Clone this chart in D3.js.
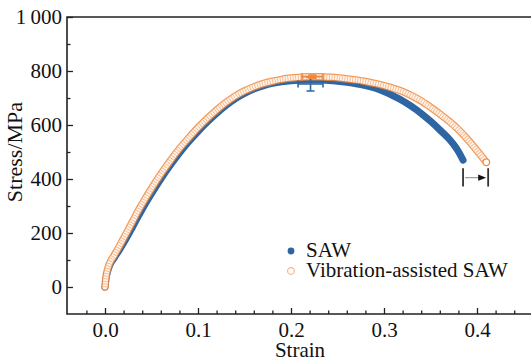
<!DOCTYPE html>
<html>
<head>
<meta charset="utf-8">
<script src="https://cdn.jsdelivr.net/npm/d3@7"></script>
<style>
  body { margin: 0; background: #fff; }
  svg { display: block; font-family: "Liberation Serif", "Times New Roman", serif; }
  .axis text { font-family: "Liberation Serif", "Times New Roman", serif; font-size: 21px; fill: #111; }
  .axis line { stroke: #222; stroke-width: 1.3; }
  .axis path { display: none; }
</style>
</head>
<body>
<div id="chart"></div>
<script>
// Data
const strainSAW = [0, 0.001, 0.003, 0.005, 0.01, 0.015, 0.02, 0.025, 0.03, 0.035, 0.04, 0.045, 0.05, 0.06, 0.07, 0.08, 0.09, 0.1, 0.11, 0.12, 0.13, 0.14, 0.15, 0.16, 0.17, 0.18, 0.19, 0.2, 0.21, 0.22, 0.23, 0.24, 0.25, 0.26, 0.27, 0.28, 0.29, 0.3, 0.31, 0.32, 0.33, 0.34, 0.35, 0.36, 0.37, 0.375, 0.38, 0.385];
const stressSAW = [0, 30, 60, 80, 108, 135, 163, 193, 225, 257, 288, 318, 346, 400, 450, 496, 538, 576, 611, 643, 672, 697, 717, 733, 745, 754, 760, 764, 766, 767, 767, 765, 762, 758, 753, 746, 737, 724, 708, 690, 668, 643, 614, 582, 548, 527, 502, 470];

const strainVib = [0, 0.001, 0.003, 0.005, 0.01, 0.015, 0.02, 0.025, 0.03, 0.035, 0.04, 0.045, 0.05, 0.06, 0.07, 0.08, 0.09, 0.1, 0.11, 0.12, 0.13, 0.14, 0.15, 0.16, 0.17, 0.18, 0.19, 0.2, 0.21, 0.22, 0.23, 0.24, 0.25, 0.26, 0.27, 0.28, 0.29, 0.3, 0.31, 0.32, 0.33, 0.34, 0.35, 0.36, 0.37, 0.38, 0.39, 0.4, 0.41];
const stressVib = [0, 35, 68, 88, 118, 148, 180, 212, 245, 278, 308, 337, 365, 418, 467, 512, 552, 590, 624, 655, 683, 707, 726, 741, 753, 762, 769, 774, 777, 779, 779, 777, 775, 771, 767, 761, 754, 746, 736, 724, 708, 689, 666, 641, 614, 583, 546, 505, 462];

// Mean peak values with scatter (error bars)
const errSeries = ["SAW", "Vibration-assisted SAW"];
const errStrain = [0.221, 0.2231];
const errStress = [752, 779];
const errStrainDev = [0.0134, 0.0113];
const errStressDev = [26, 6];

// Elongation gap annotation
const gapStrain = [0.385, 0.412];
const gapStress = [372, 440];
const gapArrowStress = 405;

const xTicks = [0, 0.1, 0.2, 0.3, 0.4];
const yTicks = [0, 200, 400, 600, 800, 1000];
const legendLabels = ["SAW", "Vibration-assisted SAW"];

const colors = { saw: "#2d66a2", vib: "#f0883c", vibLight: "#f5b283" };

// Set up
const svgWidth = 531;
const svgHeight = 362;
const frame = { left: 67, top: 17, bottom: 314, right: 540 };

const x = d3.scaleLinear().domain([0, 0.4]).range([105, 477]);
const y = d3.scaleLinear().domain([0, 1000]).range([287, 17]);

const svg = d3
  .select("#chart")
  .append("svg")
  .attr("width", svgWidth)
  .attr("height", svgHeight);

// Axes (ticks point inward)
const xMinor = d3.range(-0.02, 0.46, 0.02).filter((d) => Math.abs(d * 10 - Math.round(d * 10)) > 1e-6);
const yMinor = [100, 300, 500, 700, 900];

svg
  .append("g")
  .attr("class", "axis")
  .attr("transform", `translate(0,${frame.bottom})`)
  .call(d3.axisBottom(x).tickValues(xMinor).tickSize(-3.5).tickFormat(""));
svg
  .append("g")
  .attr("class", "axis")
  .attr("transform", `translate(0,${frame.bottom})`)
  .call(d3.axisBottom(x).tickValues(xTicks).tickSize(-6).tickPadding(8).tickFormat(d3.format(".1f")));
svg
  .append("g")
  .attr("class", "axis")
  .attr("transform", `translate(${frame.left},0)`)
  .call(d3.axisLeft(y).tickValues(yMinor).tickSize(-3.5).tickFormat(""));
svg
  .append("g")
  .attr("class", "axis")
  .attr("transform", `translate(${frame.left},0)`)
  .call(
    d3
      .axisLeft(y)
      .tickValues(yTicks)
      .tickSize(-6)
      .tickPadding(5)
      .tickFormat((d) => (d === 1000 ? "1\u2009000" : d))
  );

// Frame: left, top, bottom
svg
  .append("path")
  .attr("d", `M${frame.right},${frame.top}H${frame.left}V${frame.bottom}H${frame.right}`)
  .attr("fill", "none")
  .attr("stroke", "#222")
  .attr("stroke-width", 1.6);

// Axis titles
svg
  .append("text")
  .attr("x", 300)
  .attr("y", 357)
  .attr("text-anchor", "middle")
  .attr("font-size", 21)
  .attr("fill", "#111")
  .text("Strain");
svg
  .append("text")
  .attr("transform", "translate(22,152) rotate(-90)")
  .attr("text-anchor", "middle")
  .attr("font-size", 22)
  .attr("fill", "#111")
  .text("Stress/MPa");

// Curves
const line = d3
  .line()
  .x((d) => x(d[0]))
  .y((d) => y(d[1]))
  .curve(d3.curveMonotoneX);

const sawData = d3.zip(strainSAW, stressSAW);
const vibData = d3.zip(strainVib, stressVib);

const gCurves = svg.append("g").attr("stroke-linecap", "round").attr("stroke-linejoin", "round").attr("fill", "none");

gCurves.append("path").attr("d", line(sawData)).attr("stroke", colors.saw).attr("stroke-width", 7);

// Hollow circle band
gCurves.append("path").attr("d", line(vibData)).attr("stroke", colors.vib).attr("stroke-width", 7.5).attr("stroke-opacity", 0.85);
gCurves.append("path").attr("d", line(vibData)).attr("stroke", "#fff4ec").attr("stroke-width", 5);
gCurves
  .append("path")
  .attr("d", line(vibData))
  .attr("stroke", colors.vibLight)
  .attr("stroke-width", 5)
  .attr("stroke-linecap", "butt")
  .attr("stroke-dasharray", "0.8 1.8");
gCurves
  .append("circle")
  .attr("cx", x(strainVib[strainVib.length - 1]))
  .attr("cy", y(stressVib[stressVib.length - 1]))
  .attr("r", 3.2)
  .attr("fill", "#fff")
  .attr("stroke", colors.vib)
  .attr("stroke-width", 1.1);

// Error bars
const errData = errSeries.map((s, i) => ({
  series: s,
  x: errStrain[i],
  y: errStress[i],
  dx: errStrainDev[i],
  dy: errStressDev[i],
  color: i === 0 ? colors.saw : colors.vib,
}));
const gErr = svg
  .append("g")
  .selectAll("g")
  .data(errData)
  .join("g")
  .attr("stroke", (d) => d.color)
  .attr("stroke-width", 1.6);
gErr
  .append("path")
  .attr("fill", "none")
  .attr(
    "d",
    (d) =>
      `M${x(d.x - d.dx)},${y(d.y)}H${x(d.x + d.dx)}` +
      `M${x(d.x - d.dx)},${y(d.y) - 3.5}v7M${x(d.x + d.dx)},${y(d.y) - 3.5}v7` +
      `M${x(d.x)},${y(d.y + d.dy)}V${y(d.y - d.dy)}` +
      `M${x(d.x) - 4},${y(d.y - d.dy)}h8M${x(d.x) - 4},${y(d.y + d.dy)}h8`
  );

// Elongation gap
const gGap = svg.append("g");
gGap
  .selectAll("line.bar")
  .data(gapStrain)
  .join("line")
  .attr("class", "bar")
  .attr("x1", (d) => x(d))
  .attr("x2", (d) => x(d))
  .attr("y1", y(gapStress[1]))
  .attr("y2", y(gapStress[0]))
  .attr("stroke", "#333")
  .attr("stroke-width", 1.8);
gGap
  .append("line")
  .attr("x1", x(gapStrain[0]) + 2)
  .attr("x2", x(gapStrain[1]) - 8)
  .attr("y1", y(gapArrowStress))
  .attr("y2", y(gapArrowStress))
  .attr("stroke", "#999")
  .attr("stroke-width", 1.2);
gGap
  .append("path")
  .attr("d", () => {
    const tx = x(gapStrain[1]) - 2;
    const ty = y(gapArrowStress);
    return `M${tx},${ty}l-8,-3.2v6.4Z`;
  })
  .attr("fill", "#111");

// Legend
const legend = svg
  .append("g")
  .selectAll("g")
  .data(legendLabels)
  .join("g")
  .attr("transform", (d, i) => `translate(291,${251 + i * 20})`);
legend
  .append("circle")
  .attr("r", 3.4)
  .attr("fill", (d, i) => (i === 0 ? colors.saw : "#fff"))
  .attr("stroke", (d, i) => (i === 0 ? "none" : colors.vibLight))
  .attr("stroke-width", 1.1);
legend
  .append("text")
  .attr("x", 15)
  .attr("y", 6)
  .attr("font-size", 21)
  .attr("fill", "#111")
  .text((d) => d);
</script>
</body>
</html>
